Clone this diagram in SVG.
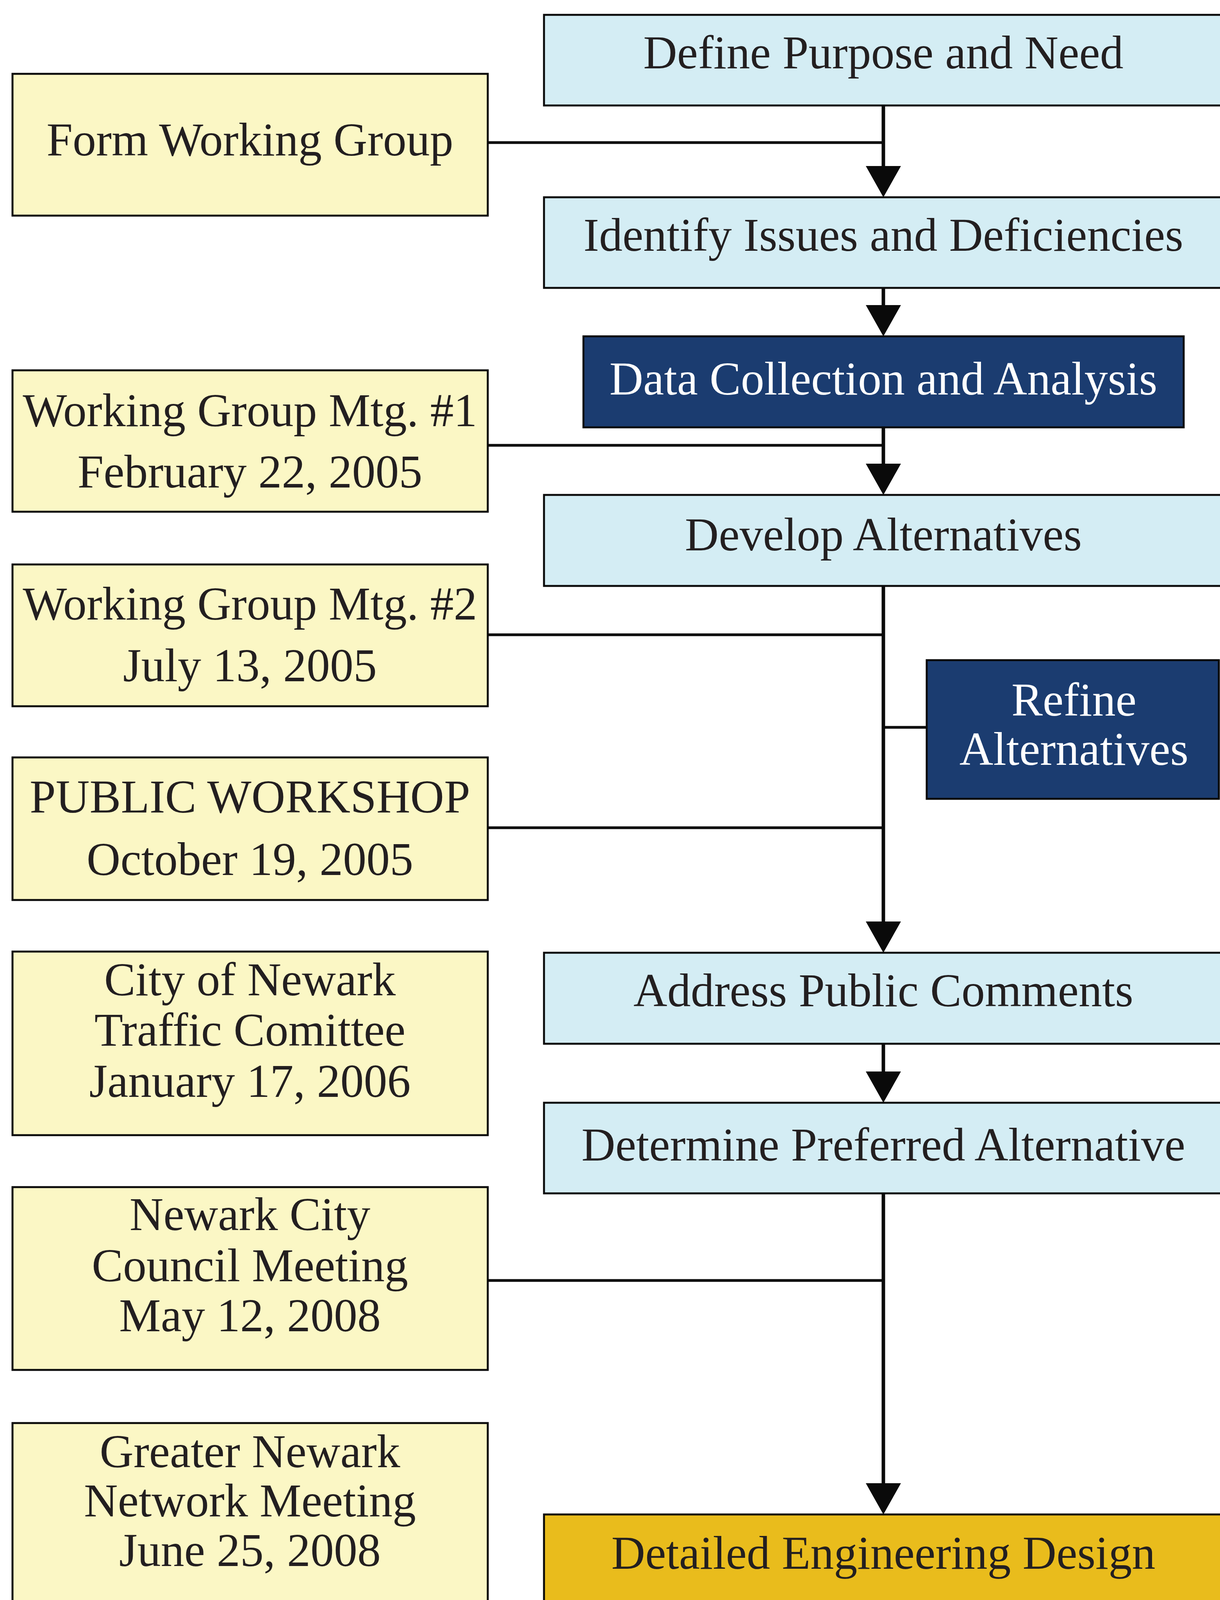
<svg xmlns="http://www.w3.org/2000/svg" width="3124" height="4943" viewBox="0 0 3124 4943">
<style>
.box{stroke:#0a0a0a;stroke-width:5}
.lb{fill:#d4edf4}
.yl{fill:#fbf7c5}
.nv{fill:#1b3c70}
.gd{fill:#e9bc1c}
.bl{fill:#87b7e3}
text{font-family:"Liberation Serif","Times New Roman",serif;font-size:120px;fill:#231f20;text-anchor:middle}
.w{fill:#ffffff}
.ln{stroke:#0a0a0a;stroke-width:7;fill:none}
.vl{stroke:#0a0a0a;stroke-width:9;fill:none}
</style>
<defs>
<marker id="arr" markerUnits="userSpaceOnUse" markerWidth="80" markerHeight="90" viewBox="0 0 80 90" refX="0" refY="45" orient="auto">
<path d="M0,0 L80,45 L0,90 Z" fill="#0a0a0a"/>
</marker>
</defs>
<rect width="3124" height="4943" fill="#ffffff"/>

<g id="connectors">
<path class="vl" d="M2262,270 V425" marker-end="url(#arr)"/>
<path class="ln" d="M1249,365 H2262"/>
<path class="vl" d="M2262,737 V781" marker-end="url(#arr)"/>
<path class="vl" d="M2262,1094 V1187" marker-end="url(#arr)"/>
<path class="ln" d="M1249,1140 H2262"/>
<path class="vl" d="M2262,1500 V2359" marker-end="url(#arr)"/>
<path class="ln" d="M1249,1625 H2262"/>
<path class="ln" d="M1249,2119 H2262"/>
<path class="ln" d="M2262,1862 H2373"/>
<path class="vl" d="M2262,2672 V2743" marker-end="url(#arr)"/>
<path class="vl" d="M2262,3055 V3797" marker-end="url(#arr)"/>
<path class="ln" d="M1249,3278 H2262"/>
<path class="vl" d="M2262,4111 V4649" marker-end="url(#arr)"/>
<path class="ln" d="M1249,4484 H2262"/>
</g>

<g id="define">
<rect class="box lb" x="1393" y="38" width="1740" height="232"/>
<text x="2262" y="175">Define Purpose and Need</text>
</g>
<g id="form-working-group">
<rect class="box yl" x="32" y="189" width="1217" height="363"/>
<text x="640" y="398">Form Working Group</text>
</g>
<g id="identify">
<rect class="box lb" x="1393" y="505" width="1740" height="232"/>
<text x="2262" y="642">Identify Issues and Deficiencies</text>
</g>
<g id="data-collection">
<rect class="box nv" x="1494" y="861" width="1537" height="233"/>
<text class="w" x="2262" y="1010">Data Collection and Analysis</text>
</g>
<g id="wg-mtg-1">
<rect class="box yl" x="32" y="948" width="1217" height="362"/>
<text x="640" y="1091">Working Group Mtg. #1</text>
<text x="640" y="1248">February 22, 2005</text>
</g>
<g id="develop">
<rect class="box lb" x="1393" y="1267" width="1740" height="233"/>
<text x="2262" y="1409">Develop Alternatives</text>
</g>
<g id="wg-mtg-2">
<rect class="box yl" x="32" y="1445" width="1217" height="363"/>
<text x="640" y="1586">Working Group Mtg. #2</text>
<text x="640" y="1744">July 13, 2005</text>
</g>
<g id="refine">
<rect class="box nv" x="2373" y="1690" width="748" height="355"/>
<text class="w" x="2750" y="1832">Refine</text>
<text class="w" x="2750" y="1958">Alternatives</text>
</g>
<g id="public-workshop">
<rect class="box yl" x="32" y="1939" width="1217" height="365"/>
<text x="640" y="2080">PUBLIC WORKSHOP</text>
<text x="640" y="2240">October 19, 2005</text>
</g>
<g id="address">
<rect class="box lb" x="1393" y="2439" width="1740" height="233"/>
<text x="2262" y="2576">Address Public Comments</text>
</g>
<g id="traffic-committee">
<rect class="box yl" x="32" y="2436" width="1217" height="470"/>
<text x="640" y="2548">City of Newark</text>
<text x="640" y="2677">Traffic Comittee</text>
<text x="640" y="2808">January 17, 2006</text>
</g>
<g id="determine">
<rect class="box lb" x="1393" y="2823" width="1740" height="232"/>
<text x="2262" y="2971">Determine Preferred Alternative</text>
</g>
<g id="council">
<rect class="box yl" x="32" y="3039" width="1217" height="468"/>
<text x="640" y="3149">Newark City</text>
<text x="640" y="3280">Council Meeting</text>
<text x="640" y="3408">May 12, 2008</text>
</g>
<g id="network">
<rect class="box yl" x="32" y="3643" width="1217" height="467"/>
<text x="640" y="3756">Greater Newark</text>
<text x="640" y="3882">Network Meeting</text>
<text x="640" y="4009">June 25, 2008</text>
</g>
<g id="detailed">
<rect class="box gd" x="1393" y="3877" width="1740" height="234"/>
<text x="2262" y="4016">Detailed Engineering Design</text>
</g>
<g id="design-workshop">
<rect class="box bl" x="32" y="4250" width="1217" height="469"/>
<text x="640" y="4363">Design Public</text>
<text x="640" y="4492">Workshop</text>
<text x="640" y="4618">November 17, 2008</text>
</g>
<g id="construction">
<rect class="box lb" x="1393" y="4729" width="1740" height="240"/>
<text x="2262" y="4867">Construction</text>
</g>
</svg>
